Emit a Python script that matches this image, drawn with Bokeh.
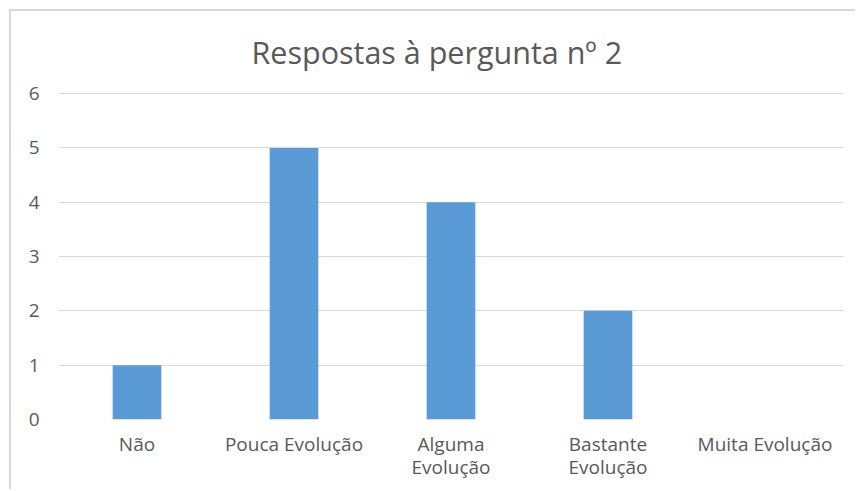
from bokeh.plotting import figure
from bokeh.models import ColumnDataSource
from bokeh.embed import file_html
from bokeh.resources import INLINE

categories = ["Não", "Pouca Evolução", "Alguma\nEvolução", "Bastante\nEvolução", "Muita Evolução"]
values = [1, 5, 4, 2, 0]
y_ticks = [0, 1, 2, 3, 4, 5, 6]
title_text = "Respostas à pergunta nº 2"

FONT = "Open Sans"
GREY = "#595959"

src = ColumnDataSource(dict(cat=categories, val=values))

p = figure(x_range=categories, y_range=(0, 6.02), width=846, height=480,
           output_backend="svg", toolbar_location=None, title=title_text,
           min_border_left=47, min_border_right=14, min_border_top=81, min_border_bottom=72)
p.styles = {"margin-left": "9px", "margin-top": "9px",
            "border-left": "2px solid #d9d9d9", "border-top": "2px solid #d9d9d9"}

p.vbar(x="cat", top="val", width=0.31, source=src, color="#5b9bd5", line_color=None)

p.title.align = "left"
p.title.offset = 193
p.title.text_font = FONT
p.title.text_font_size = "30.5px"
p.title.text_font_style = "normal"
p.title.text_color = GREY
p.title.vertical_align = "top"
p.title.standoff = 36

p.outline_line_color = None
p.background_fill_color = "white"
p.border_fill_color = "white"

p.xgrid.grid_line_color = None
p.ygrid.grid_line_color = "#d9d9d9"
p.ygrid.grid_line_width = 1

p.yaxis.ticker = y_ticks
for ax in (p.xaxis[0], p.yaxis[0]):
    ax.axis_line_color = None
    ax.major_tick_line_color = None
    ax.minor_tick_line_color = None
    ax.major_label_text_font = FONT
    ax.major_label_text_font_size = "19px"
    ax.major_label_text_color = GREY
p.xaxis.major_label_text_line_height = 0.9
p.yaxis.major_label_standoff = 13
p.xaxis.major_label_standoff = 5

p.x_range.range_padding = 0
p.y_range.start = 0

open("out.html", "w").write(file_html(p, INLINE))
